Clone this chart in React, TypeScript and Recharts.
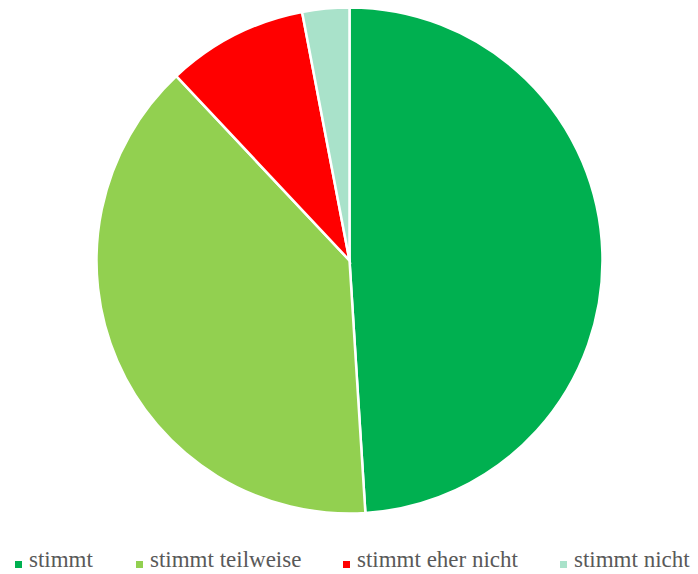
import { PieChart, Pie, Cell } from "recharts";

const labels = ["stimmt", "stimmt teilweise", "stimmt eher nicht", "stimmt nicht"];
const shares = [49, 39, 9, 3];
const colors = ["#00B050", "#92D050", "#FF0000", "#A9E2CA"];

const data = labels.map((name, i) => ({ name, value: shares[i] }));

// legend: square left edge per item
const legendX = [15, 136, 343, 560];

function LegendRow() {
  return (
    <div style={{ position: "absolute", left: 0, top: 547, width: 698, height: 26 }}>
      {labels.map((l, i) => (
        <div key={l}>
          <span style={{ position: "absolute", left: legendX[i], top: 14, width: 7, height: 7, background: colors[i] }} />
          <span
            style={{
              position: "absolute", left: legendX[i] + 14, top: 0, whiteSpace: "nowrap",
              fontFamily: "'Liberation Serif', 'Times New Roman', serif", fontSize: 23,
              color: "#595959", lineHeight: "26px",
            }}
          >
            {l}
          </span>
        </div>
      ))}
    </div>
  );
}

export default function App() {
  return (
    <div style={{ position: "absolute", left: 0, top: 0, width: 698, height: 574, background: "#fff" }}>
      <PieChart width={698} height={574} margin={{ top: 0, right: 0, bottom: 0, left: 0 }}>
        <Pie
          data={data}
          dataKey="value"
          nameKey="name"
          cx={349.5}
          cy={260.5}
          outerRadius={253}
          startAngle={90}
          endAngle={-270}
          stroke="#fff"
          strokeWidth={2.5}
          isAnimationActive={false}
        >
          {data.map((_, i) => <Cell key={i} fill={colors[i]} />)}
        </Pie>
      </PieChart>
      <LegendRow />
    </div>
  );
}
